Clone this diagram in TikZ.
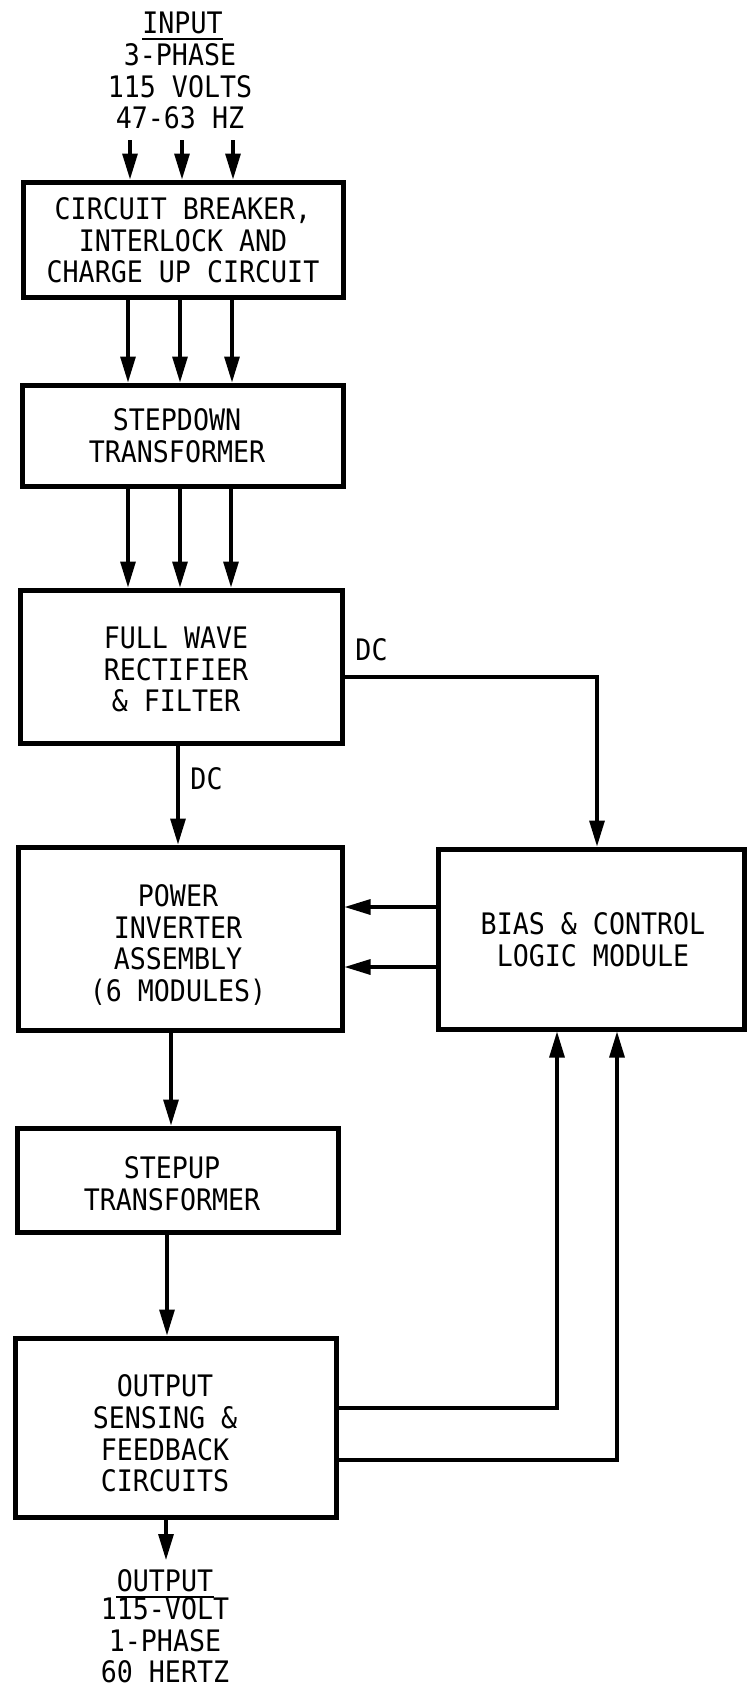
\documentclass[tikz,border=0pt]{standalone}
\usepackage{fontspec}
\usetikzlibrary{arrows.meta,calc}
\newfontfamily\leroy[FakeStretch=0.9]{DejaVu Sans Mono}
\tikzset{
  blk/.style={draw, line width=2.5pt, inner sep=0pt},
  txt/.style={font=\leroy\fontsize{14.8}{15.8}\selectfont, align=center, inner sep=0pt},
  arr/.style={line width=1.6pt, -{Triangle[length=13pt,width=7.5pt]}},
  ln/.style={line width=1.6pt},
  uline/.style={line width=1pt}
}
\begin{document}
\begin{tikzpicture}[x=0.5pt,y=-0.5pt]
\useasboundingbox (0,0) rectangle (747,1691);
% boxes
\node[blk, minimum width=160pt,   minimum height=57.5pt] (b1) at (183,239.5) {};
\node[blk, minimum width=160.5pt, minimum height=50.5pt] (b2) at (182.5,435.5) {};
\node[blk, minimum width=161pt,   minimum height=76.5pt] (b3) at (181,666.5) {};
\node[blk, minimum width=162pt,   minimum height=91.5pt] (b4) at (180,938.5) {};
\node[blk, minimum width=153pt,   minimum height=90pt]   (b5) at (591,939) {};
\node[blk, minimum width=160.5pt, minimum height=52pt]   (b6) at (177.5,1180) {};
\node[blk, minimum width=160.5pt, minimum height=89.5pt] (b7) at (175.5,1427.5) {};
% box texts
\node[txt] (t1) at (183,240.5) {CIRCUIT BREAKER,\\INTERLOCK AND\\CHARGE UP CIRCUIT};
\node[txt] (t2) at (177,436) {STEPDOWN\\TRANSFORMER};
\node[txt] (t3) at (176,669.5) {FULL WAVE\\RECTIFIER\\\& FILTER};
\node[txt] (t4) at (178,945) {POWER\\INVERTER\\ASSEMBLY\\(6 MODULES)};
\node[txt] (t5) at (593,940) {BIAS \& CONTROL\\LOGIC MODULE};
\node[txt] (t6) at (172,1184) {STEPUP\\TRANSFORMER};
\node[txt] (t7) at (165,1433.5) {OUTPUT\\SENSING \&\\FEEDBACK\\CIRCUITS};
% input / output texts
\node[txt] (inT) at (182.5,22.5) {INPUT};
\node[txt] (inB) at (180,86.5) {3-PHASE\\115 VOLTS\\47-63 HZ};
\draw[uline] ([yshift=-3pt]inT.base west) -- ([yshift=-3pt]inT.base east);
\node[txt] (outT) at (165,1581) {OUTPUT};
\node[txt] (outB) at (165,1640.5) {115-VOLT\\1-PHASE\\60 HERTZ};
\draw[uline] ([yshift=-2.5pt]outT.base west) -- ([yshift=-2.5pt]outT.base east);
% DC labels
\node[txt] (dc1) at (371.5,650) {DC};
\node[txt] (dc2) at (206.5,778.5) {DC};
% coordinates
\coordinate (i1) at (130,140);
\coordinate (i2) at (182,140);
\coordinate (i3) at (233,140);
\coordinate (k1) at (128,0);
\coordinate (k2) at (180,0);
\coordinate (k3) at (232,0);
\coordinate (m3) at (231,0);
\coordinate (kd) at (178,0);
\coordinate (kb) at (597,0);
\coordinate (yd) at (0,677);
\coordinate (ya) at (0,907);
\coordinate (yb) at (0,967);
\coordinate (ku) at (171,0);
\coordinate (kv) at (167,0);
\coordinate (yf1) at (0,1408);
\coordinate (yf2) at (0,1460);
\coordinate (kf1) at (557,0);
\coordinate (kf2) at (617,0);
\coordinate (oe) at (166,1560);
% connectors
\draw[arr] (i1) -- (i1 |- b1.north);
\draw[arr] (i2) -- (i2 |- b1.north);
\draw[arr] (i3) -- (i3 |- b1.north);
\draw[arr] (b1.south -| k1) -- (b2.north -| k1);
\draw[arr] (b1.south -| k2) -- (b2.north -| k2);
\draw[arr] (b1.south -| k3) -- (b2.north -| k3);
\draw[arr] (b2.south -| k1) -- (b3.north -| k1);
\draw[arr] (b2.south -| k2) -- (b3.north -| k2);
\draw[arr] (b2.south -| m3) -- (b3.north -| m3);
\draw[arr] (b3.south -| kd) -- (b4.north -| kd);
\draw[arr] (b3.east |- yd) -- (kb |- yd) -- (b5.north -| kb);
\draw[arr] (b5.west |- ya) -- (b4.east |- ya);
\draw[arr] (b5.west |- yb) -- (b4.east |- yb);
\draw[arr] (b4.south -| ku) -- (b6.north -| ku);
\draw[arr] (b6.south -| kv) -- (b7.north -| kv);
\draw[arr] (b7.east |- yf1) -- (kf1 |- yf1) -- (b5.south -| kf1);
\draw[arr] (b7.east |- yf2) -- (kf2 |- yf2) -- (b5.south -| kf2);
\draw[arr] (b7.south -| oe) -- (oe);
\end{tikzpicture}
\end{document}
